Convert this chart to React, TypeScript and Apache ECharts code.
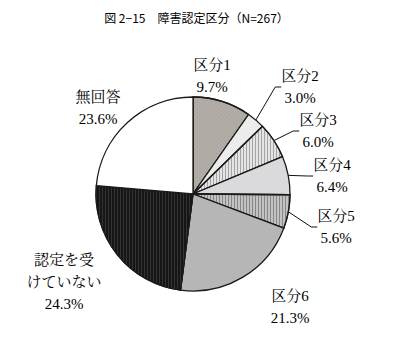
import React, { useEffect, useRef } from "react";
import * as echarts from "echarts";

const titleText = "図 2−15　障害認定区分（N=267）";
const categories = ["区分1", "区分2", "区分3", "区分4", "区分5", "区分6", "認定を受\nけていない", "無回答"];
const values = [9.7, 3.0, 6.0, 6.4, 5.6, 21.3, 24.3, 23.6];
const colors = ["#b1aca6", "#ececec", "#e4e4e4", "#dadadc", "#c2c2c2", "#b6b6b6", "#161616", "#ffffff"];
const decals: any[] = [
  { symbol: "rect", dashArrayX: [1, 2], dashArrayY: [1, 2], color: "rgba(150,145,140,0.5)", rotation: 0.785 },
  null,
  { symbol: "rect", dashArrayX: [1, 2], dashArrayY: [10, 0], color: "rgba(120,120,120,0.6)" },
  null,
  { symbol: "rect", dashArrayX: [1, 2], dashArrayY: [10, 0], color: "rgba(110,110,110,0.7)" },
  null,
  { symbol: "rect", dashArrayX: [1, 2], dashArrayY: [10, 0], color: "rgba(70,70,70,0.6)" },
  null,
];
const showLine = [true, true, true, true, true, false, false, false];
const labelPos: [number, number][] = [
  [212, 76], [300, 87], [318, 131], [332, 176], [336, 227], [290, 307], [64, 282], [98, 108],
];

export default function App() {
  const ref = useRef<HTMLDivElement>(null);
  useEffect(() => {
    const chart = echarts.init(ref.current!, null, { renderer: "svg" });
    const serif = "'Liberation Serif', 'Noto Serif CJK JP', 'Noto Sans CJK JP', serif";
    chart.setOption({
      animation: false,
      backgroundColor: "#ffffff",
      title: {
        text: titleText,
        left: "center",
        top: 6,
        textStyle: { fontFamily: "'Noto Sans CJK JP', sans-serif", fontSize: 12, fontWeight: "normal", color: "#000" },
      },
      series: [
        {
          type: "pie",
          center: [193, 194],
          radius: 97,
          startAngle: 90,
          clockwise: true,
          avoidLabelOverlap: false,
          itemStyle: { borderColor: "#1a1a1a", borderWidth: 1.3 },
          label: {
            show: true,
            position: "outside",
            fontFamily: serif,
            fontSize: 15,
            lineHeight: 22,
            color: "#000",
            align: "center",
            formatter: (p: any) => `${p.name}\n${p.value.toFixed(1)}%`,
          },
          labelLine: { show: true, lineStyle: { color: "#111", width: 1 }, length: 8, length2: 6 },
          labelLayout: (p: any) => {
            const pos = labelPos[p.dataIndex];
            return { x: pos[0], y: pos[1], align: "center", verticalAlign: "middle" };
          },
          data: categories.map((c, i) => ({
            name: c,
            value: values[i],
            itemStyle: decals[i] ? { color: colors[i], decal: decals[i] } : { color: colors[i] },
            labelLine: { show: showLine[i] },
          })),
        },
      ],
    });
    return () => chart.dispose();
  }, []);
  return <div ref={ref} style={{ position: "fixed", left: 0, top: 0, width: 393, height: 356 }} />;
}
